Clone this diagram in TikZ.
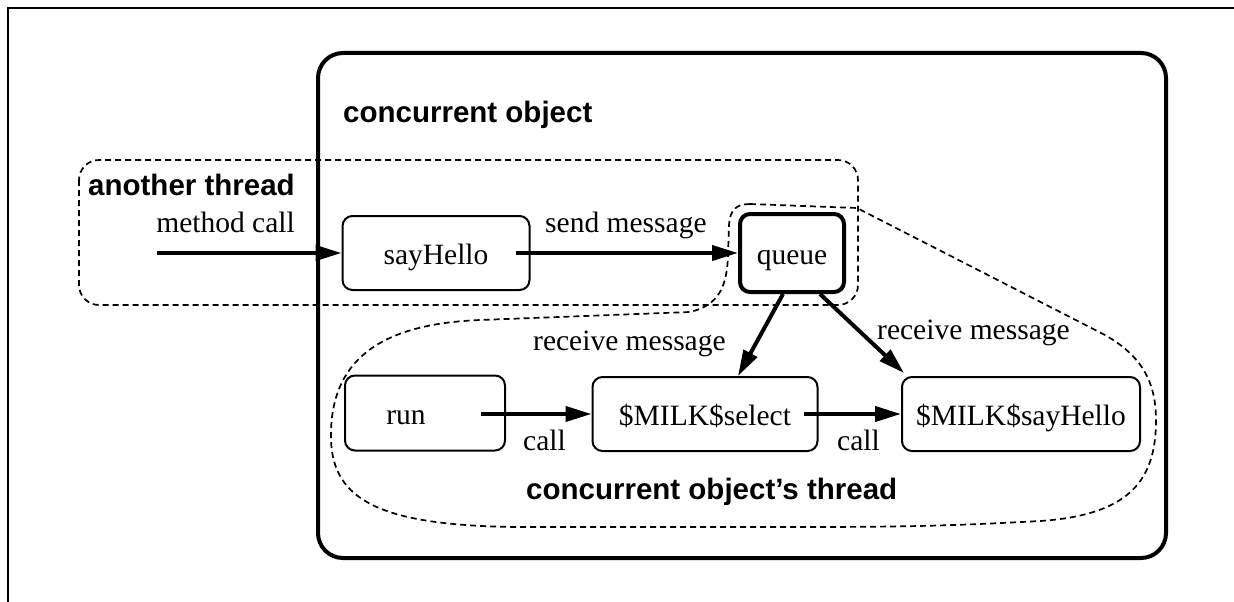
\documentclass[tikz,border=0pt]{standalone}
\usepackage{fontspec}
\setmainfont{Liberation Serif}
\setsansfont{Liberation Sans}
\usetikzlibrary{arrows.meta}
\begin{document}
\begin{tikzpicture}[x=1pt,y=-1pt,
  every node/.style={font=\fontsize{29.5}{35}\selectfont, inner sep=0pt},
  heading/.style={font=\fontsize{29.5}{35}\selectfont\sffamily\bfseries},
  boxtext/.style={text height=22pt, text depth=0pt},
  proc/.style={draw, line width=2pt, rounded corners=10pt, boxtext},
  queuebox/.style={draw, line width=4pt, rounded corners=10pt, boxtext},
  region/.style={draw, line width=1.7pt, dash pattern=on 6pt off 4pt},
  flow/.style={line width=4pt, -{Triangle[length=26pt,width=15pt]}}]
\useasboundingbox (0,0) rectangle (1234,602);

% page frame
\draw[line width=1.5pt] (1234,8) -- (8,8) -- (8,602);

% concurrent object
\draw[line width=4pt, rounded corners=25pt] (318,53) rectangle (1166,558);
\node[heading, anchor=base west] (colabel) at (343,122) {concurrent object};

% calling thread region
\draw[region, rounded corners=20pt] (79,160) rectangle (858,305);
\node[heading, anchor=base west] (atlabel) at (88,195) {another thread};

% concurrent object's own thread region
\draw[region]
  (750,204) -- (857,208) -- (1105,335)
  .. controls (1140,355) and (1156,380) .. (1156,420)
  .. controls (1156,480) and (1130,515) .. (1040,521)
  .. controls (950,526) and (900,527) .. (800,527)
  -- (520,527)
  .. controls (380,526) and (333,500) .. (331,440)
  .. controls (329,360) and (380,324) .. (480,320)
  -- (690,312)
  .. controls (720,305) and (727,285) .. (728,255)
  -- (729,225)
  .. controls (730,210) and (736,204) .. (750,204) -- cycle;
\node[heading, anchor=base west] (ctlabel) at (526,499) {concurrent object's thread};

% boxes
\node[proc, minimum width=187pt, minimum height=74pt] (say) at (436,253) {sayHello};
\node[queuebox, minimum width=104pt, minimum height=78pt] (queue) at (792,253) {queue};
\node[proc, minimum width=160pt, minimum height=75pt] (run) at (425,413) {};
\node[boxtext] (runtext) at (406,413) {run};
\node[proc, minimum width=225pt, minimum height=74pt] (select) at (705,414) {\$MILK\$select};
\node[proc, minimum width=238pt, minimum height=74pt] (msay) at (1021,414) {\$MILK\$sayHello};

% connectors
\coordinate (caller) at (157,253);
\draw[flow] (caller) -- (say.west);
\draw[flow] ([xshift=-15pt]say.east) -- (queue.west);
\draw[flow] ([xshift=-9pt]queue.south) -- ([xshift=33pt]select.north);
\draw[flow] ([xshift=28pt]queue.south) -- ([xshift=3pt,yshift=3pt]msay.north west);
\draw[flow] ([xshift=-25pt]run.east |- select.west) -- (select.west);
\draw[flow] ([xshift=-15pt]select.east) -- (msay.west);

% connector labels
\node[anchor=base east] (lmc) at (295,232) {method call};
\node[anchor=base west] (lsend) at (545,232) {send message};
\node[anchor=base west] (lrecv1) at (533,350) {receive message};
\node[anchor=base west] (lrecv2) at (877,339) {receive message};
\node[anchor=base west] (lcall1) at (523,450) {call};
\node[anchor=base west] (lcall2) at (837,450) {call};
\end{tikzpicture}
\end{document}
